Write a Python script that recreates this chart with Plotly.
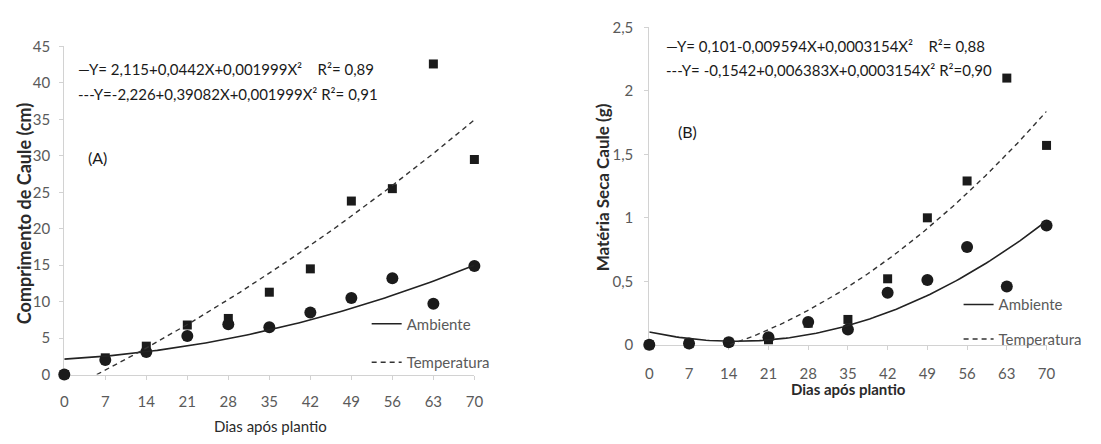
import numpy as np
import plotly.graph_objects as go

W, H = 1101, 444

dias = [0, 7, 14, 21, 28, 35, 42, 49, 56, 63, 70]
tick_labels_x = ["0", "7", "14", "21", "28", "35", "42", "49", "56", "63", "70"]

# Panel A - Comprimento de Caule (cm)
comp_ambiente = [0.0, 2.0, 3.1, 5.3, 6.9, 6.5, 8.5, 10.5, 13.2, 9.7, 14.9]
comp_temperatura = [0.0, 2.3, 3.9, 6.8, 7.7, 11.3, 14.5, 23.8, 25.5, 42.6, 29.5]
coef_comp_ambiente = [2.115, 0.0442, 0.001999]
coef_comp_temperatura = [-2.226, 0.39082, 0.001999]

# Panel B - Materia Seca Caule (g)
ms_ambiente = [0.0, 0.01, 0.02, 0.06, 0.18, 0.12, 0.41, 0.51, 0.77, 0.46, 0.94]
ms_temperatura = [0.0, 0.01, 0.02, 0.04, 0.17, 0.20, 0.52, 1.00, 1.29, 2.10, 1.57]
coef_ms_ambiente = [0.101, -0.009594, 0.0003154]
coef_ms_temperatura = [-0.1542, 0.006383, 0.0003154]

ticks_y_a = [0, 5, 10, 15, 20, 25, 30, 35, 40, 45]
ticks_y_b = [0, 0.5, 1, 1.5, 2, 2.5]
ticks_y_b_text = ["0", "0,5", "1", "1,5", "2", "2,5"]


def curve(coef, x0=0.0, x1=70.0):
    c0, c1, c2 = coef
    if c0 < 0:
        x0 = (-c1 + np.sqrt(c1 * c1 - 4 * c2 * c0)) / (2 * c2)
    xs = np.linspace(x0, x1, 120)
    return xs, c0 + c1 * xs + c2 * xs ** 2


def px(x):
    return x / W


def py(y):
    return 1 - y / H


FONT = "Lato"
DARK = "#1b1b1b"
GREY_TXT = "#5a5a5a"
AXIS_C = "#d2d2d2"

fig = go.Figure()

# ---- Panel A
fig.add_trace(go.Scatter(x=dias, y=comp_temperatura, mode="markers", xaxis="x", yaxis="y",
                         marker=dict(symbol="square", size=9, color=DARK), cliponaxis=False,
                         showlegend=False))
fig.add_trace(go.Scatter(x=dias, y=comp_ambiente, mode="markers", xaxis="x", yaxis="y",
                         marker=dict(symbol="circle", size=12, color=DARK), cliponaxis=False,
                         showlegend=False))
xa, ya = curve(coef_comp_ambiente)
fig.add_trace(go.Scatter(x=xa, y=ya, mode="lines", xaxis="x", yaxis="y", name="Ambiente",
                         line=dict(color="#222222", width=1.6), legend="legend", legendgroup="a1"))
xt, yt = curve(coef_comp_temperatura)
fig.add_trace(go.Scatter(x=xt, y=yt, mode="lines", xaxis="x", yaxis="y", name="Temperatura",
                         line=dict(color="#333333", width=1.4, dash="5px,4px"), legend="legend",
                         legendgroup="a2"))

# ---- Panel B
fig.add_trace(go.Scatter(x=dias, y=ms_temperatura, mode="markers", xaxis="x2", yaxis="y2",
                         marker=dict(symbol="square", size=9, color=DARK), cliponaxis=False,
                         showlegend=False))
fig.add_trace(go.Scatter(x=dias, y=ms_ambiente, mode="markers", xaxis="x2", yaxis="y2",
                         marker=dict(symbol="circle", size=12, color=DARK), cliponaxis=False,
                         showlegend=False))
xa, ya = curve(coef_ms_ambiente)
fig.add_trace(go.Scatter(x=xa, y=ya, mode="lines", xaxis="x2", yaxis="y2", name="Ambiente",
                         line=dict(color="#222222", width=1.6), legend="legend2", legendgroup="b1"))
xt, yt = curve(coef_ms_temperatura)
fig.add_trace(go.Scatter(x=xt, y=yt, mode="lines", xaxis="x2", yaxis="y2", name="Temperatura",
                         line=dict(color="#333333", width=1.4, dash="5px,4px"), legend="legend2",
                         legendgroup="b2"))

axis_common = dict(showgrid=False, zeroline=False, showline=True, linecolor=AXIS_C, linewidth=1,
                   ticks="outside", tickcolor=AXIS_C, ticklen=4, layer="below traces",
                   tickfont=dict(family=FONT, size=15, color=GREY_TXT))

fig.update_layout(
    width=W, height=H,
    margin=dict(l=0, r=0, t=0, b=0),
    paper_bgcolor="white", plot_bgcolor="white",
    font=dict(family=FONT, color="#222222"),
    xaxis=dict(domain=[px(61), px(476)], range=[0, 70], tickvals=dias, ticktext=tick_labels_x,
               anchor="y", ticklabelstandoff=9, **axis_common),
    yaxis=dict(domain=[py(380), py(38)], range=[0, 45], tickvals=ticks_y_a, anchor="x",
               ticklabelstandoff=6, **axis_common),
    xaxis2=dict(domain=[px(653), px(1055)], range=[0, 70], tickvals=dias, ticktext=tick_labels_x,
                anchor="y2", ticklabelstandoff=11, **axis_common),
    yaxis2=dict(domain=[py(349), py(18)], range=[0, 2.5], tickvals=ticks_y_b,
                ticktext=ticks_y_b_text, anchor="x2", ticklabelstandoff=8, **axis_common),
    legend=dict(x=px(367), y=py(310), xanchor="left", yanchor="top", bgcolor="rgba(0,0,0,0)",
                font=dict(family=FONT, size=15, color=GREY_TXT), traceorder="grouped",
                tracegroupgap=16),
    legend2=dict(x=px(966), y=py(290), xanchor="left", yanchor="top", bgcolor="rgba(0,0,0,0)",
                 font=dict(family=FONT, size=15, color=GREY_TXT), traceorder="grouped",
                 tracegroupgap=12),
)

ann = []
eq_font = dict(family=FONT, size=15, color="#1a1a1a")
ann.append(dict(x=px(73), y=py(61), xref="paper", yref="paper", xanchor="left", yanchor="middle",
                showarrow=False, font=eq_font,
                text="—Y= 2,115+0,0442X+0,001999X²    R²= 0,89"))
ann.append(dict(x=px(73), y=py(88), xref="paper", yref="paper", xanchor="left", yanchor="middle",
                showarrow=False, font=eq_font,
                text="---Y=-2,226+0,39082X+0,001999X² R²= 0,91"))
ann.append(dict(x=px(83), y=py(154), xref="paper", yref="paper", xanchor="left", yanchor="middle",
                showarrow=False, font=dict(family=FONT, size=16, color="#1a1a1a"), text="(A)"))
ann.append(dict(x=px(668), y=py(38), xref="paper", yref="paper", xanchor="left", yanchor="middle",
                showarrow=False, font=eq_font,
                text="—Y= 0,101-0,009594X+0,0003154X²    R²= 0,88"))
ann.append(dict(x=px(668), y=py(63), xref="paper", yref="paper", xanchor="left", yanchor="middle",
                showarrow=False, font=eq_font,
                text="---Y= -0,1542+0,006383X+0,0003154X² R²=0,90"))
ann.append(dict(x=px(680), y=py(127), xref="paper", yref="paper", xanchor="left", yanchor="middle",
                showarrow=False, font=dict(family=FONT, size=16, color="#1a1a1a"), text="(B)"))
# axis titles
ann.append(dict(x=px(21), y=py(212), xref="paper", yref="paper", xanchor="center", yanchor="middle",
                showarrow=False, textangle=-90,
                font=dict(family=FONT, size=18, color="#2a2a2a", weight="bold"),
                text="Comprimento de Caule (cm)"))
ann.append(dict(x=px(270), y=py(434), xref="paper", yref="paper", xanchor="center", yanchor="middle",
                showarrow=False, font=dict(family=FONT, size=15, color="#2a2a2a"),
                text="Dias após plantio"))
ann.append(dict(x=px(606), y=py(185), xref="paper", yref="paper", xanchor="center", yanchor="middle",
                showarrow=False, textangle=-90,
                font=dict(family=FONT, size=17, color="#2a2a2a", weight="bold"),
                text="Matéria Seca Caule (g)"))
ann.append(dict(x=px(855), y=py(395), xref="paper", yref="paper", xanchor="center", yanchor="middle",
                showarrow=False, font=dict(family=FONT, size=15, color="#2a2a2a", weight="bold"),
                text="Dias após plantio"))
fig.update_layout(annotations=ann)

fig.write_html("out.html")
